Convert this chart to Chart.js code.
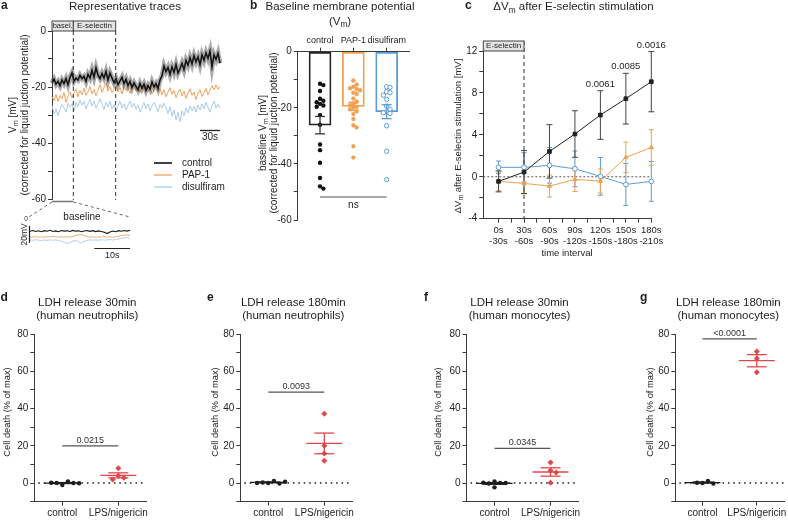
<!DOCTYPE html>
<html><head><meta charset="utf-8">
<script src="https://cdn.jsdelivr.net/npm/chart.js@4.4.1/dist/chart.umd.min.js"></script>
<style>
html,body{margin:0;padding:0;background:#fff;}
#wrap{position:relative;width:788px;height:520px;overflow:hidden;background:#fff;}
canvas{position:absolute;left:0;top:0;}
</style></head><body><div id="wrap"></div>
<script>
// ================= DATA =================
// panel a: representative traces (mV), equally spaced samples over traceDuration seconds
const traceDuration = 252;
const baselineEnd = 32, stimEnd = 95.5;
const traceLabels = ['control', 'PAP-1', 'disulfiram'];
const traceControl = [
 -18.5,-17.2,-19.0,-18.0,-19.5,-17.5,-18.8,-17.0,-19.2,-16.5,
 -15.0,-18.0,-16.8,-17.5,-15.8,-17.0,-16.2,-18.0,-15.5,-16.8,
 -14.0,-16.5,-13.2,-15.8,-17.0,-15.2,-16.8,-14.5,-17.5,-15.0,
 -16.8,-18.5,-17.0,-19.2,-17.8,-16.5,-18.8,-17.2,-19.5,-18.0,
 -20.2,-18.5,-19.8,-21.0,-18.8,-20.5,-19.0,-21.2,-19.5,-20.8,
 -18.2,-20.0,-18.8,-20.5,-17.5,-16.0,-12.5,-14.5,-13.0,-15.5,
 -12.8,-14.8,-12.0,-15.0,-13.5,-11.5,-13.8,-10.5,-12.2,-9.5,
 -11.8,-8.8,-11.0,-9.2,-12.0,-8.5,-10.5,-7.8,-9.8,-7.2,
 -12.8,-8.5,-10.2,-8.0,-11.5];
const tracePap1 = [
 -23.5,-24.8,-22.6,-25.2,-23.0,-24.2,-22.0,-25.5,-23.2,-21.8,
 -23.8,-22.2,-20.8,-23.5,-21.2,-22.8,-20.5,-23.0,-21.8,-19.8,
 -22.5,-20.9,-23.2,-21.0,-19.2,-22.0,-20.2,-18.5,-21.5,-19.8,
 -22.0,-20.8,-19.5,-21.8,-20.2,-22.5,-19.8,-21.2,-20.0,-22.3,
 -20.6,-19.2,-21.5,-20.0,-22.0,-19.5,-21.0,-19.0,-21.6,-20.3,
 -22.5,-20.8,-19.6,-21.8,-20.5,-22.8,-21.0,-23.5,-21.8,-20.2,
 -22.6,-21.2,-23.8,-22.0,-20.8,-23.2,-21.5,-24.0,-22.2,-20.6,
 -23.0,-21.8,-24.5,-22.3,-21.0,-23.4,-22.0,-20.5,-22.8,-21.2,
 -19.5,-21.0,-19.2,-20.8,-19.8];
const traceDisulfiram = [
 -26.5,-29.5,-27.8,-30.2,-28.0,-26.2,-27.5,-29.0,-25.8,-27.2,
 -26.0,-28.4,-25.5,-27.0,-24.8,-26.5,-25.2,-27.8,-26.0,-24.5,
 -26.8,-25.0,-27.5,-25.8,-24.2,-26.2,-28.0,-25.5,-27.2,-25.0,
 -27.8,-26.2,-28.5,-26.8,-25.2,-27.5,-26.0,-28.2,-26.5,-25.0,
 -27.2,-25.8,-28.0,-26.5,-29.0,-27.2,-25.6,-27.8,-26.0,-28.5,
 -26.8,-25.5,-27.0,-28.8,-26.2,-27.5,-25.8,-27.2,-29.5,-27.0,
 -30.5,-28.2,-31.8,-29.0,-32.5,-28.5,-30.2,-27.5,-29.2,-26.8,
 -28.5,-27.0,-29.0,-26.5,-28.2,-26.0,-27.8,-25.5,-27.2,-29.0,
 -26.8,-25.0,-27.5,-26.2,-27.5];
// baseline inset (first ~28 s, finer sampling)
const insetDuration = 28;
const insetControl = [
 -18.2,-17.5,-18.6,-17.8,-18.9,-17.6,-18.3,-17.2,-18.5,-17.9,
 -18.8,-17.4,-18.1,-17.7,-18.6,-17.3,-18.2,-17.8,-18.9,-18.0,
 -17.5,-18.4,-17.6,-18.7,-17.9,-18.5,-19.5,-21.0,-19.2,-18.0,
 -18.8,-17.6,-18.3,-17.4,-18.1,-17.0];
const insetPap1 = [
 -24.8,-25.2,-24.5,-25.5,-24.9,-25.3,-24.6,-25.0,-24.2,-24.8,
 -25.4,-24.7,-25.1,-24.6,-25.2,-24.5,-23.6,-22.6,-22.2,-23.4,
 -24.8,-25.3,-24.7,-25.4,-24.9,-25.1,-24.6,-25.3,-24.8,-25.5,
 -24.7,-24.2,-23.6,-23.0,-22.6,-23.2];
const insetDisulfiram = [
 -28.5,-29.0,-28.2,-28.8,-29.3,-28.6,-29.1,-28.4,-28.9,-28.5,
 -29.2,-30.0,-31.2,-32.8,-31.5,-29.8,-29.0,-30.8,-31.9,-30.2,
 -28.8,-28.3,-28.9,-28.5,-28.9,-28.2,-28.7,-28.4,-28.1,-28.6,
 -27.9,-27.5,-26.8,-26.2,-25.8,-26.5];

// panel b: baseline Vm per cell (mV)
const bCategories = ['control', 'PAP-1', 'disulfiram'];
const bControl = [-11.4,-11.9,-14.0,-16.8,-17.5,-18.0,-18.6,-19.2,-19.6,-22.6,-26.0,-33.1,-35.1,-39.6,-45.0,-48.0,-48.8];
const bPap1 = [-10.3,-11.7,-12.5,-13.0,-13.3,-13.7,-14.6,-15.1,-16.7,-17.8,-18.5,-19.0,-19.6,-20.0,-20.5,-21.2,-22.2,-24.0,-26.2,-27.0,-33.7,-37.7];
const bDisulfiram = [-12.5,-12.7,-14.3,-14.6,-15.5,-17.0,-19.4,-20.5,-21.5,-21.8,-22.0,-26.4,-35.5,-45.6];
const bSignificance = 'ns';

// panel c: delta Vm (mean, SEM) per time interval
const cIntervals = [['0s','-30s'],['30s','-60s'],['60s','-90s'],['90s','-120s'],['120s','-150s'],['150s','-180s'],['180s','-210s']];
const cControlMean = [-0.44, 0.45, 2.42, 4.08, 5.89, 7.45, 9.07];
const cControlSem  = [1.0, 2.05, 2.55, 2.22, 2.32, 2.42, 2.87];
const cPap1Mean    = [-0.44, -0.63, -0.89, -0.25, -0.41, 1.85, 2.8];
const cPap1Sem     = [0.9, 1.0, 1.05, 1.15, 1.15, 1.45, 1.7];
const cDisulfiramMean = [0.9, 0.9, 1.09, 0.76, 0.04, -0.73, -0.44];
const cDisulfiramSem  = [0.6, 1.4, 1.7, 1.7, 1.8, 2.0, 1.9];
const cPValues = ['', '', '', '', '0.0061', '0.0085', '0.0016'];

// panels d-g: LDH release, cell death (% of max)
const ldhCategories = ['control', 'LPS/nigericin'];
const dControl = [-1.1, 0.9, 0.1, 0.0, 0.2, -0.1];
const dLps = [8.0, 3.9, 2.8, 1.9];
const eControl = [0.0, 1.2, 0.3, -0.2, 0.1, 0.7];
const eLps = [37.2, 20.0, 15.9, 12.0];
const fControl = [0.9, -2.3, 0.1, -0.2, 0.0, 0.2];
const fLps = [11.1, 6.8, 5.7, 0.2];
const gControl = [0.0, 1.1, 0.2, -0.2];
const gLps = [70.6, 66.9, 59.5];
const ldhPValues = ['0.0215', '0.0093', '0.0345', '<0.0001'];

// ================= STYLE / HELPERS =================
const W = 788, H = 520;
const FONT = '"Liberation Sans", Arial, Helvetica, sans-serif';
const INK = '#1e1e1e', AX = '#3a3a3a';
const ORANGE = '#f0a050', BLUE = '#5b9bd5', RED = '#e0474c';
const ROT = -Math.PI / 2;

function addCanvas(){const c=document.createElement('canvas');c.width=W;c.height=H;document.getElementById('wrap').appendChild(c);return c;}
function drawText(ctx, parts, x, y, size, o={}){
  if(typeof parts==='string') parts=[[parts,false]];
  ctx.save(); ctx.translate(x,y); if(o.rot) ctx.rotate(o.rot);
  ctx.fillStyle=o.color||INK; ctx.textBaseline='middle'; ctx.textAlign='left';
  const fw=o.bold?'bold ':'';
  const fontOf=p=>fw+(p[1]?size*0.72:size)+'px '+FONT;
  let total=0;
  const ws=parts.map(p=>{ctx.font=fontOf(p);const w=ctx.measureText(p[0]).width;total+=w;return w;});
  let cx=o.align==='left'?0:(o.align==='right'?-total:-total/2);
  parts.forEach((p,i)=>{ctx.font=fontOf(p);ctx.fillText(p[0],cx,p[1]?size*0.32:0);cx+=ws[i];});
  ctx.restore();
}
function seg(ctx,x1,y1,x2,y2,color,width,dash){
  ctx.save();ctx.beginPath();ctx.strokeStyle=color;ctx.lineWidth=width||1;ctx.setLineDash(dash||[]);
  ctx.moveTo(x1,y1);ctx.lineTo(x2,y2);ctx.stroke();ctx.restore();
}
function mean(a){return a.reduce((s,v)=>s+v,0)/a.length;}
function sem(a){const m=mean(a);return Math.sqrt(a.reduce((s,x)=>s+(x-m)*(x-m),0)/(a.length-1)/a.length);}
// deterministic horizontal spreading of close values (scatter-dot layout)
function swarm(vals,thr,step,maxK){
  const placed=[];
  const offOf=k=>k===0?0:(k%2?1:-1)*Math.ceil(k/2)*step;
  return vals.map(v=>{
    let best=0,bestC=1e9;
    for(let k=0;k<=maxK;k++){
      const off=offOf(k);
      const c=placed.filter(p=>Math.abs(p.off-off)<step/2&&Math.abs(p.v-v)<thr).length;
      if(c<bestC){bestC=c;best=off;}
      if(c===0)break;
    }
    placed.push({v,off:best});return best;
  });
}
function errBar(ctx,xs,ys,xv,m,s,color,cap,lw){
  const x=xs.getPixelForValue(xv),yt=ys.getPixelForValue(m+s),yb=ys.getPixelForValue(m-s);
  seg(ctx,x,yt,x,yb,color,lw);seg(ctx,x-cap,yt,x+cap,yt,color,lw);seg(ctx,x-cap,yb,x+cap,yb,color,lw);
}
function yAxis(min,max,step,labelFn,size){
  return {type:'linear',min,max,
    grid:{display:true,drawOnChartArea:false,drawTicks:true,tickLength:4,tickColor:AX,tickWidth:1},
    border:{display:true,color:AX,width:1},
    ticks:{stepSize:step,autoSkip:false,color:INK,font:{family:FONT,size:size||10},padding:2,callback:labelFn}};
}
function xAxis(min,max,tickVals,labelFn,size){
  return {type:'linear',min,max,offset:false,
    grid:{display:true,offset:false,drawOnChartArea:false,drawTicks:true,tickLength:4,tickColor:AX,tickWidth:1},
    border:{display:true,color:AX,width:1},
    afterBuildTicks:s=>{s.ticks=tickVals.map(v=>({value:v}));},
    ticks:{autoSkip:false,maxRotation:0,minRotation:0,color:INK,font:{family:FONT,size:size||10,lineHeight:1.15},padding:2,callback:labelFn}};
}
function makeChart(area,cfg){
  const c=addCanvas();
  const xs=cfg.x, ys=cfg.y;
  const yW=ys.display===false?0:(cfg.yW||30);
  const xH=xs.display===false?0:(cfg.xH||18);
  if(ys.display!==false) ys.afterFit=s=>{s.width=yW;s.paddingTop=0;s.paddingBottom=0;};
  if(xs.display!==false) xs.afterFit=s=>{s.height=xH;s.paddingLeft=0;s.paddingRight=0;};
  const top=!!cfg.xTop; if(top) xs.position='top';
  const padding={left:area.l-yW,right:W-area.r,top:area.t-(top?xH:0),bottom:H-area.b-(top?0:xH)};
  return new Chart(c,{type:'scatter',data:{datasets:cfg.datasets},
    options:{responsive:false,animation:false,devicePixelRatio:1,events:[],layout:{padding},
      plugins:{legend:{display:false},tooltip:{enabled:false},title:{display:false}},scales:{x:xs,y:ys}},
    plugins:[{id:'deco',beforeDatasetsDraw(ch){cfg.under&&cfg.under(ch);},afterDatasetsDraw(ch){cfg.over&&cfg.over(ch);}}]});
}
const lineDs=(data,color,width)=>({data,showLine:true,borderColor:color,borderWidth:width,pointRadius:0,tension:0,fill:false,clip:false});
const spread=(arr,dur)=>arr.map((v,i)=>({x:i*dur/(arr.length-1),y:v}));

// ================= PANEL a =================
const traceColors=['#111111','#f2a25a','#a8cae8'];
makeChart({l:52,t:31,r:220,b:199},{
  x:{type:'linear',display:false,min:0,max:traceDuration},
  y:yAxis(-60,0,10,v=>v%20===0?v:''),
  datasets:[
    lineDs(spread(traceControl,traceDuration),'#151515',1.6),
    lineDs(spread(traceControl,traceDuration),'rgba(70,70,70,0.45)',5),
    lineDs(spread(tracePap1,traceDuration),traceColors[1],1),
    lineDs(spread(traceDisulfiram,traceDuration),traceColors[2],1)],
  over(ch){
    const ctx=ch.ctx,xs=ch.scales.x;
    const x0=xs.getPixelForValue(0),xb=xs.getPixelForValue(baselineEnd),xe=xs.getPixelForValue(stimEnd);
    ctx.save();ctx.fillStyle='#e4e4e4';ctx.strokeStyle='#444';ctx.lineWidth=1;
    ctx.fillRect(x0,21,xb-x0,10);ctx.strokeRect(x0,21,xb-x0,10);
    ctx.fillRect(xb,21,xe-xb,10);ctx.strokeRect(xb,21,xe-xb,10);ctx.restore();
    drawText(ctx,'basel.',(x0+xb)/2,26.2,7.5);
    drawText(ctx,'E-selectin',(xb+xe)/2,26.2,8);
    seg(ctx,xb,31,xb,200,'#333',1,[4,3]);seg(ctx,xe,31,xe,200,'#333',1,[4,3]);
    seg(ctx,x0,201.5,xb,201.5,'#777',1.5);
    seg(ctx,x0,202,29,217,'#666',1,[3,3]);seg(ctx,xb,202,130,217,'#666',1,[3,3]);
    const ly=[163,175,187];
    traceLabels.forEach((t,i)=>{seg(ctx,154,ly[i],172,ly[i],traceColors[i],i===0?1.6:1.3);drawText(ctx,t,182,ly[i],10,{align:'left'});});
    const s0=xs.getPixelForValue(traceDuration-30),s1=xs.getPixelForValue(traceDuration);
    seg(ctx,s0,130.5,s1,130.5,'#222',1.3);
    drawText(ctx,'30s',(s0+s1)/2,137.5,10);
    drawText(ctx,'a',1,6,12,{bold:true,align:'left'});
    drawText(ctx,'Representative traces',125,7,11.5);
    drawText(ctx,[['V',0],['m',1],[' [mV]',0]],13,115,10,{rot:ROT});
    drawText(ctx,'(corrected for liquid juction potential)',25,115,10,{rot:ROT});
  }
});
// inset
makeChart({l:30,t:215.7,r:130,b:249.7},{
  x:{type:'linear',display:false,min:0,max:insetDuration},
  y:{type:'linear',display:false,min:-40,max:0},
  datasets:[
    lineDs(spread(insetControl,insetDuration),'#151515',1.1),
    lineDs(spread(insetPap1,insetDuration),traceColors[1],0.9),
    lineDs(spread(insetDisulfiram,insetDuration),traceColors[2],0.9)],
  over(ch){
    const ctx=ch.ctx,xs=ch.scales.x,ys=ch.scales.y;
    const yA=ys.getPixelForValue(-12),yB=ys.getPixelForValue(-32);
    seg(ctx,29.5,yA,29.5,yB,'#222',1.2);
    drawText(ctx,'20mV',24.5,(yA+yB)/2,8.5,{rot:ROT});
    const xa=xs.getPixelForValue(insetDuration-10),xb=xs.getPixelForValue(insetDuration);
    seg(ctx,xa,248.5,xb,248.5,'#222',1.2);
    drawText(ctx,'10s',(xa+xb)/2,256,9);
    drawText(ctx,'baseline',82,217,10);
    drawText(ctx,'0',26,219,6.5);
  }
});

// ================= PANEL b =================
const bGroups=[bControl,bPap1,bDisulfiram];
const bColors=['#222222',ORANGE,BLUE];
const bMeans=bGroups.map(mean), bSems=bGroups.map(sem);
const bPts=(arr,gi)=>{const o=swarm(arr,1.4,0.1,6);return arr.map((v,i)=>({x:gi+o[i],y:v}));};
makeChart({l:297.7,t:51.7,r:410,b:220},{
  x:xAxis(-0.67,2.7,[0,1,2],v=>bCategories[v],9),
  y:yAxis(-60,0,10,v=>v%20===0?v:''),
  xTop:true,xH:16,
  datasets:[
    {data:bPts(bControl,0),pointStyle:'circle',pointRadius:2.2,pointBackgroundColor:'#111',pointBorderWidth:0,clip:false},
    {data:bPts(bPap1,1),pointStyle:'star',pointRadius:2.3,pointBorderColor:ORANGE,pointBackgroundColor:ORANGE,pointBorderWidth:1.1,clip:false},
    {data:bPts(bDisulfiram,2),pointStyle:'circle',pointRadius:2.2,pointBackgroundColor:'#fff',pointBorderColor:BLUE,pointBorderWidth:1,clip:false},
    {type:'bar',data:bMeans.map((m,i)=>({x:i,y:m})),barThickness:22,backgroundColor:'rgba(255,255,255,0)',borderColor:bColors,borderWidth:1.1,borderSkipped:false}],
  over(ch){
    const ctx=ch.ctx,xs=ch.scales.x,ys=ch.scales.y;
    bMeans.forEach((m,i)=>errBar(ctx,xs,ys,i,m,bSems[i],i===0?'#333':bColors[i],5,1.3));
    const ny=ys.getPixelForValue(-51.8);
    seg(ctx,xs.getPixelForValue(0),ny,xs.getPixelForValue(2),ny,'#555',1.1);
    drawText(ctx,bSignificance,xs.getPixelForValue(1),ny+8.5,10);
    drawText(ctx,'b',250,6,12,{bold:true,align:'left'});
    drawText(ctx,'Baseline membrane potential',340,7,11.5);
    drawText(ctx,[['(V',0],['m',1],[')',0]],340,21.5,11.5);
    drawText(ctx,[['baseline V',0],['m',1],[' [mV]',0]],263,133,10,{rot:ROT});
    drawText(ctx,'(corrected for liquid juction potential)',274,133,10,{rot:ROT});
  }
});

// ================= PANEL c =================
const cSeries=[
  {m:cControlMean,s:cControlSem,color:'#222222',err:'#444',style:'rect',r:2.6,bg:'#222222',cap:3},
  {m:cPap1Mean,s:cPap1Sem,color:ORANGE,err:ORANGE,style:'triangle',r:2.4,bg:ORANGE,cap:2.5},
  {m:cDisulfiramMean,s:cDisulfiramSem,color:BLUE,err:BLUE,style:'circle',r:2.4,bg:'#fff',cap:2.5}];
const cTicks=[0,0.5,1,1.5,2,2.5,3,3.5,4,4.5,5,5.5,6];
makeChart({l:483.3,t:51,r:651.3,b:218.7},{
  x:xAxis(-0.6,6,cTicks,v=>Number.isInteger(v)?cIntervals[v]:'',9.5),
  y:yAxis(-4,12,2,v=>v%4===0?v:''),
  xH:36,
  datasets:cSeries.map(s=>({data:s.m.map((v,i)=>({x:i,y:v})),showLine:true,borderColor:s.color,borderWidth:1,tension:0,
    pointStyle:s.style,pointRadius:s.r,pointBackgroundColor:s.bg,pointBorderColor:s.color,pointBorderWidth:1,clip:false})),
  under(ch){
    const ctx=ch.ctx,xs=ch.scales.x,ys=ch.scales.y,a=ch.chartArea;
    const y0=ys.getPixelForValue(0);
    seg(ctx,a.left,y0,a.right,y0,'#555',1,[2,2]);
    const xd=xs.getPixelForValue(1);
    seg(ctx,xd,41,xd,a.bottom,'#333',1,[4,3]);
    for(let k=cSeries.length-1;k>=0;k--){const s=cSeries[k];s.m.forEach((m,i)=>errBar(ctx,xs,ys,i,m,s.s[i],s.err,s.cap,1));}
  },
  over(ch){
    const ctx=ch.ctx,xs=ch.scales.x,ys=ch.scales.y,a=ch.chartArea;
    const xd=xs.getPixelForValue(1);
    ctx.save();ctx.fillStyle='#e4e4e4';ctx.strokeStyle='#444';ctx.lineWidth=1;
    ctx.fillRect(a.left,41,xd-a.left,10);ctx.strokeRect(a.left,41,xd-a.left,10);ctx.restore();
    drawText(ctx,'E-selectin',(a.left+xd)/2,46.2,8);
    cPValues.forEach((p,i)=>{if(p) drawText(ctx,p,xs.getPixelForValue(i),ys.getPixelForValue(cControlMean[i]+cControlSem[i])-6.5,9.5);});
    drawText(ctx,'c',465,6,12,{bold:true,align:'left'});
    drawText(ctx,[['ΔV',0],['m',1],[' after E-selectin stimulation',0]],573.5,7,11.5);
    drawText(ctx,[['ΔV',0],['m',1],[' after E-selectin stimulation [mV]',0]],458,136,9.5,{rot:ROT});
    drawText(ctx,'time interval',567,253,9.5);
  }
});

// ================= PANELS d-g =================
const ldhPanels=[
  {letter:'d',lx:0.5,title:['LDH release 30min','(human neutrophils)'],ctrl:dControl,lps:dLps,sig:20,l:34.3,yt:7},
  {letter:'e',lx:207,title:['LDH release 180min','(human neutrophils)'],ctrl:eControl,lps:eLps,sig:48.8,l:240.3,yt:215},
  {letter:'f',lx:424,title:['LDH release 30min','(human monocytes)'],ctrl:fControl,lps:fLps,sig:18.6,l:466.5,yt:438.5},
  {letter:'g',lx:640,title:['LDH release 180min','(human monocytes)'],ctrl:gControl,lps:gLps,sig:77.4,l:675.3,yt:650}];
ldhPanels.forEach((P,pi)=>{
  const groups=[P.ctrl,P.lps], cols=['#1e1e1e',RED];
  const pts=(arr,gi)=>{const o=swarm(arr,2.5,0.1,8);return arr.map((v,i)=>({x:gi+o[i],y:v}));};
  makeChart({l:P.l,t:334,r:P.l+112,b:501.7},{
    x:xAxis(-0.5,1.5,[0,1],v=>ldhCategories[v],10),
    y:yAxis(-10,80,10,v=>(v>=0&&v%20===0)?v:''),
    xH:18,
    datasets:[
      {data:pts(P.ctrl,0),pointStyle:'circle',pointRadius:2.2,pointBackgroundColor:'#1e1e1e',pointBorderWidth:0,clip:false},
      {data:pts(P.lps,1),pointStyle:'rectRot',pointRadius:3,pointBackgroundColor:RED,pointBorderWidth:0,clip:false}],
    under(ch){
      const ctx=ch.ctx,ys=ch.scales.y,a=ch.chartArea;const y0=ys.getPixelForValue(0);
      seg(ctx,a.left+4,y0,a.right,y0,'#222',1.6,[1.6,3.8]);
    },
    over(ch){
      const ctx=ch.ctx,xs=ch.scales.x,ys=ch.scales.y;
      groups.forEach((g,gi)=>{
        const m=mean(g),s=sem(g),x=xs.getPixelForValue(gi),ym=ys.getPixelForValue(m);
        seg(ctx,x-18,ym,x+18,ym,cols[gi],1.3);
        errBar(ctx,xs,ys,gi,m,s,cols[gi],10,1.3);
      });
      const sy=ys.getPixelForValue(P.sig);
      seg(ctx,xs.getPixelForValue(0),sy,xs.getPixelForValue(1),sy,'#555',1.2);
      drawText(ctx,ldhPValues[pi],(xs.getPixelForValue(0)+xs.getPixelForValue(1))/2,sy-5.5,9,{color:'#333'});
      drawText(ctx,P.letter,P.lx,297.5,12,{bold:true,align:'left'});
      drawText(ctx,P.title[0],P.l+53,303,11.5);
      drawText(ctx,P.title[1],P.l+53,316,11.5);
      drawText(ctx,'Cell death (% of max)',P.yt,412,9.3,{rot:ROT});
    }
  });
});
</script></body></html>
